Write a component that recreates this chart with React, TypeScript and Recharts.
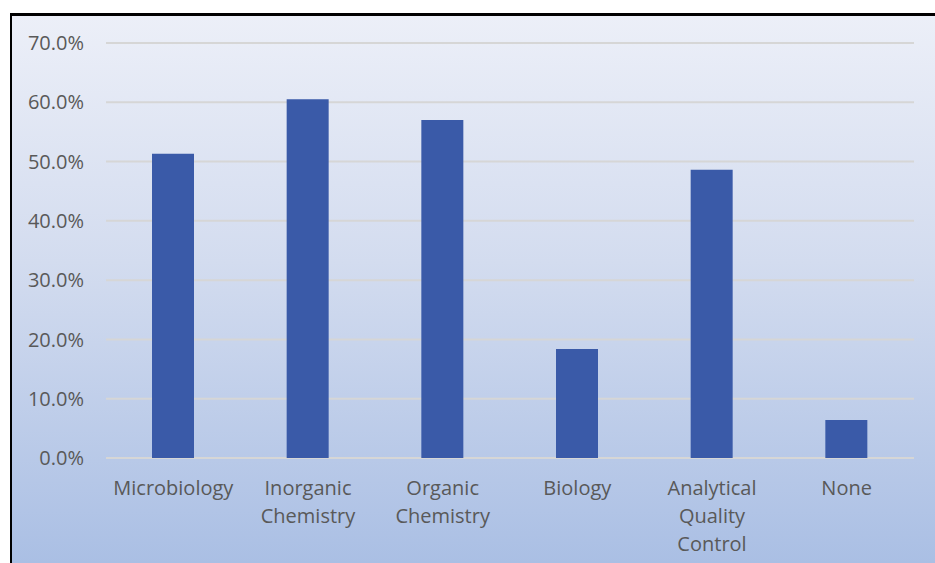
import { Bar, BarChart, CartesianGrid, XAxis, YAxis } from 'recharts'

const CATEGORIES = [
  'Microbiology',
  'Inorganic Chemistry',
  'Organic Chemistry',
  'Biology',
  'Analytical Quality Control',
  'None',
]
const SHARES = [0.513, 0.605, 0.57, 0.184, 0.486, 0.064]
const Y_TICKS = [0, 0.1, 0.2, 0.3, 0.4, 0.5, 0.6, 0.7]

const FONT = '"Open Sans", Lato, sans-serif'
const TEXT = '#595959'
const BAR = '#3a5aa8'

const data = CATEGORIES.map((name, i) => ({ name, share: SHARES[i] }))

// Excel wraps the long category names one word per line
function CategoryTick({ x, y, payload }: { x: number; y: number; payload: { value: string } }) {
  const words = String(payload.value).split(' ')
  return (
    <text x={x} y={y} textAnchor="middle" fill={TEXT} fontFamily={FONT} fontSize={20}>
      {words.map((w, i) => (
        <tspan key={i} x={x} dy={i === 0 ? 29 : 28}>
          {w}
        </tspan>
      ))}
    </text>
  )
}

export default function App() {
  return (
    <div style={{ position: 'absolute', left: 0, top: 0, width: 935, height: 563, background: '#fff' }}>
      <div
        style={{
          position: 'absolute',
          left: 10,
          top: 13,
          right: 0,
          bottom: 0,
          borderTop: '3px solid #000',
          borderLeft: '2px solid #000',
          background: 'linear-gradient(to bottom, #eceff8 0%, #d3dcef 45%, #aabfe4 100%)',
        }}
      />
      <div style={{ position: 'absolute', left: 0, top: 0 }}>
        <BarChart
          width={935}
          height={563}
          data={data}
          margin={{ top: 43, right: 21, bottom: 5, left: 0 }}
          barCategoryGap={0}
        >
          <CartesianGrid vertical={false} stroke="#d6d6d6" strokeWidth={2} />
          <XAxis
            dataKey="name"
            axisLine={false}
            tickLine={false}
            height={100}
            interval={0}
            tick={(props) => <CategoryTick {...props} />}
          />
          <YAxis
            width={106}
            domain={[0, 0.7]}
            ticks={Y_TICKS}
            axisLine={false}
            tickLine={false}
            tickSize={0}
            tickMargin={22}
            tickFormatter={(v: number) => (v * 100).toFixed(1) + '%'}
            tick={{ fill: TEXT, fontFamily: FONT, fontSize: 20 }}
          />
          <Bar dataKey="share" fill={BAR} barSize={42} isAnimationActive={false} />
        </BarChart>
      </div>
    </div>
  )
}
